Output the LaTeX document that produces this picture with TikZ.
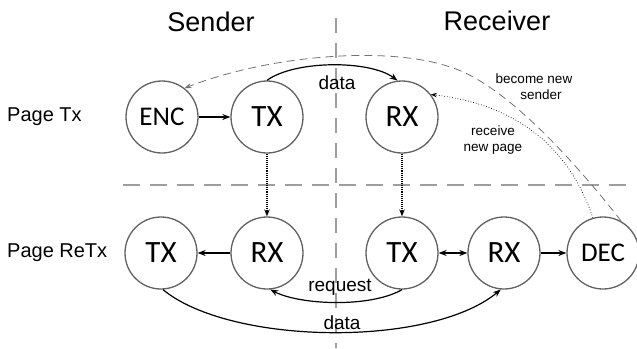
\documentclass[tikz,border=0pt]{standalone}
\usepackage{fontspec}
\setmainfont{Liberation Sans}
\newfontfamily\nodefont{Carlito}
\usetikzlibrary{arrows.meta}
\begin{document}
\begin{tikzpicture}[x=1pt,y=1pt,
  stnode/.style={circle,draw=black!62,line width=1.3pt,minimum size=72pt,inner sep=0pt,font=\nodefont\fontsize{31}{31}\selectfont},
  smnode/.style={stnode,font=\nodefont\fontsize{27}{27}\selectfont},
  sep/.style={draw=black!38,line width=2.4pt,dash pattern=on 17pt off 10pt},
  arr/.style={line width=1.2pt,-{Stealth[length=8pt,width=6pt]}},
  dotarr/.style={line width=1.1pt,densely dotted,-{Stealth[length=7pt,width=5.5pt]}},
  lbl/.style={font=\fontsize{19}{19}\selectfont,inner sep=1pt},
  small/.style={font=\fontsize{13.5}{16}\selectfont,align=center,inner sep=0pt},
  title/.style={font=\fontsize{27}{27}\selectfont},
  rowlbl/.style={font=\fontsize{20}{20}\selectfont,anchor=west,inner sep=0pt}]
\useasboundingbox (0,0) rectangle (637,-348);
% separators
\coordinate (vt) at (336,-18);
\coordinate (vb) at (336,-348);
\coordinate (hl) at (123,-185);
\coordinate (hr) at (630,-185);
\draw[sep,dash pattern=on 15pt off 10pt] (vt) -- (vb);
\draw[sep] (hl) -- (hr);
% titles
\node[title] (tS) at (211,-22) {Sender};
\node[title] (tR) at (497,-21) {Receiver};
\node[rowlbl] (rTx) at (7,-117) {Page Tx};
\node[rowlbl] (rRe) at (7,-253) {Page ReTx};
% nodes
\node[smnode] (enc) at (162,-117) {ENC};
\node[stnode] (tx1) at (267,-117) {TX};
\node[stnode] (rx1) at (402,-117) {RX};
\node[stnode] (tx2) at (161,-253) {TX};
\node[stnode] (rx2) at (267,-253) {RX};
\node[stnode] (tx3) at (402,-253) {TX};
\node[stnode] (rx3) at (504,-253) {RX};
\node[smnode] (dec) at (603,-253) {DEC};
% edges
\draw[arr] (enc) -- (tx1);
\draw[arr] (rx2) -- (tx2);
\draw[line width=1.2pt,{Stealth[length=8pt,width=6pt]}-{Stealth[length=8pt,width=6pt]}] (tx3) -- (rx3);
\draw[arr] (rx3) -- (dec);
\draw[dotarr] (tx1) -- (rx2);
\draw[dotarr] (rx1) -- (tx3);
\draw[arr] (tx1.north) .. controls (295,-60) and (370,-60) .. (rx1.97);
\node[lbl] (d1) at (337,-83) {data};
\draw[arr] (tx3.south) .. controls (370,-308) and (300,-305) .. (rx2.-85);
\node[lbl] (rq) at (340,-287) {request};
\draw[arr] (tx2.-87) .. controls (230,-345) and (430,-348) .. (rx3.-95);
\node[lbl] (d2) at (342,-323) {data};
% feedback
\coordinate (mid) at (453,-68);
\draw[line width=0.8pt,draw=black!55,dash pattern=on 8pt off 5pt,-{Stealth[length=7pt,width=5pt]}]
  (dec.60) .. controls (590,-181) and (513,-88) .. (mid) .. controls (390,-45) and (270,-55) .. (enc.52);
\draw[line width=0.7pt,dotted,-{Stealth[length=6pt,width=4.5pt]}]
  (dec.106) .. controls (570,-150) and (520,-105) .. (rx1.38);
\node[small] (bs) at (534,-87) {become new\\\hspace*{14pt}sender};
\node[small] (rp) at (493,-140) {receive\\new page};
\end{tikzpicture}
\end{document}
